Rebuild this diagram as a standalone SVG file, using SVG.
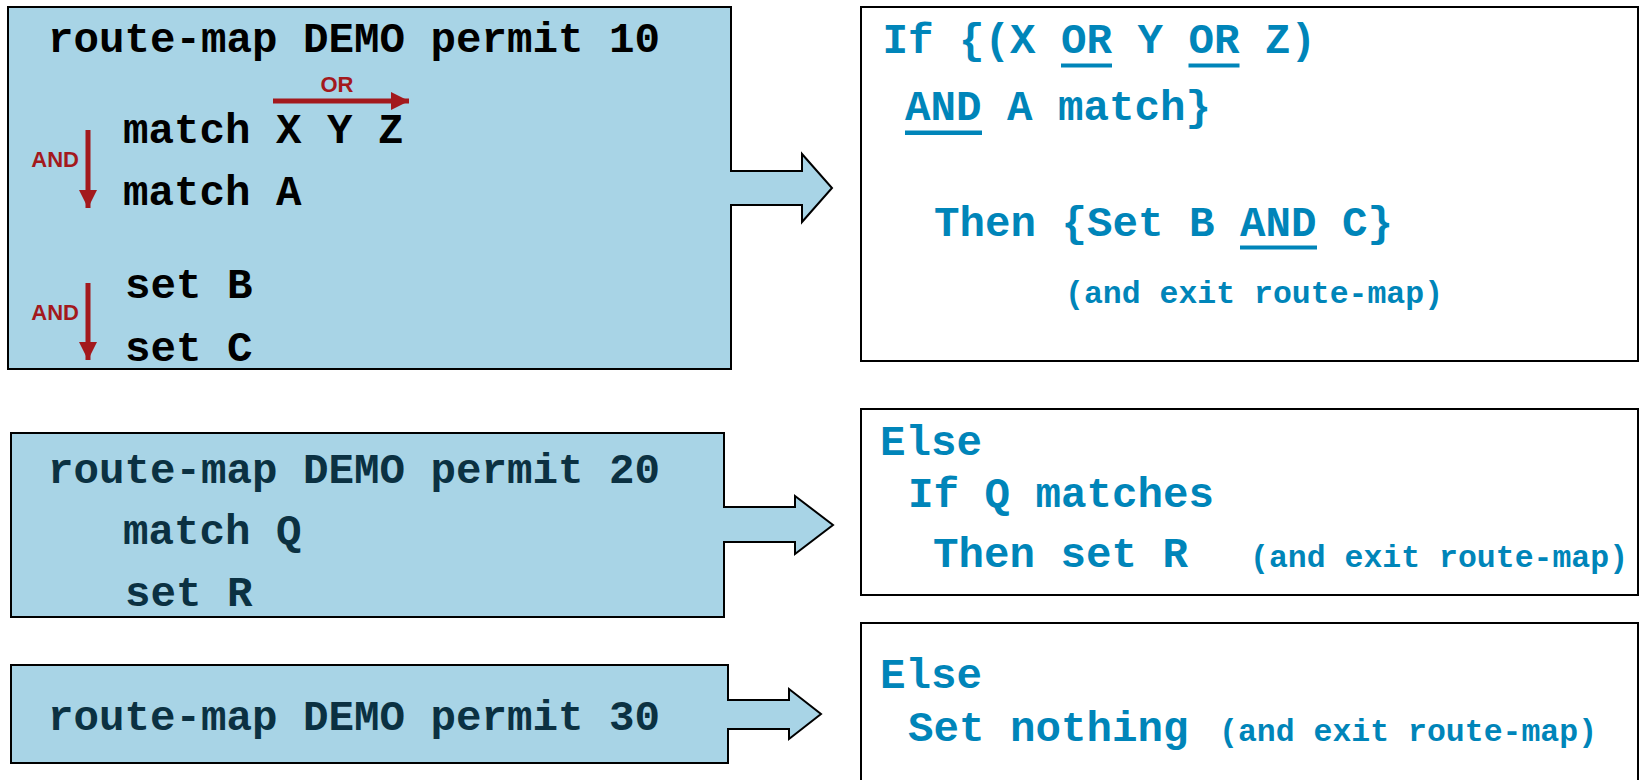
<svg xmlns="http://www.w3.org/2000/svg" width="1640" height="780" viewBox="0 0 1640 780">
  <defs>
    <style>
      .blk { fill: #A8D4E6; stroke: #000; stroke-width: 2; stroke-linejoin: miter; }
      .out { fill: #fff; stroke: #000; stroke-width: 2; }
      .code { font-family: "Liberation Mono", "Courier New", monospace; font-weight: bold; font-size: 42.5px; }
      .k { fill: #000; }
      .d { fill: #0B3142; }
      .b { fill: #0085B9; }
      .sm { font-size: 31.5px; }
      .lbl { font-family: "Liberation Sans", Arial, sans-serif; font-weight: bold; font-size: 22px; fill: #A3191D; }
      .ul { fill: #0085B9; }
      .rl { stroke: #A3191D; stroke-width: 5; fill: none; }
    </style>
    <marker id="red-head" viewBox="0 0 10 10" refX="10" refY="5" markerWidth="3.6" markerHeight="3.6" orient="auto" markerUnits="strokeWidth">
      <path d="M0,0 L10,5 L0,10 Z" fill="#A3191D"/>
    </marker>
  </defs>

  <rect width="1640" height="780" fill="#fff"/>

  <!-- sequence 10 -->
  <g id="seq10">
    <path class="blk" d="M8,7 H731 V171 H802 V154 L832,188 L802,222 V205 H731 V369 H8 Z"/>
    <text class="code k" x="48" y="52">route-map DEMO permit 10</text>
    <text class="code k" x="123" y="143">match X Y Z</text>
    <text class="code k" x="123" y="205">match A</text>
    <text class="code k" x="125" y="298">set B</text>
    <text class="code k" x="125" y="361">set C</text>
    <line class="rl" x1="273" y1="101" x2="409" y2="101" marker-end="url(#red-head)"/>
    <text class="lbl" x="337" y="92" text-anchor="middle">OR</text>
    <line class="rl" x1="88" y1="130" x2="88" y2="208" marker-end="url(#red-head)"/>
    <text class="lbl" x="79" y="167" text-anchor="end">AND</text>
    <line class="rl" x1="88" y1="283" x2="88" y2="360" marker-end="url(#red-head)"/>
    <text class="lbl" x="79" y="320" text-anchor="end">AND</text>
  </g>

  <!-- sequence 20 -->
  <g id="seq20">
    <path class="blk" d="M11,433 H724 V507 H795 V496 L833,525 L795,554 V542 H724 V617 H11 Z"/>
    <text class="code d" x="48" y="483">route-map DEMO permit 20</text>
    <text class="code d" x="123" y="544">match Q</text>
    <text class="code d" x="125" y="606">set R</text>
  </g>

  <!-- sequence 30 -->
  <g id="seq30">
    <path class="blk" d="M11,665 H728 V700 H789 V689 L821,714 L789,739 V729 H728 V763 H11 Z"/>
    <text class="code d" x="48" y="730">route-map DEMO permit 30</text>
  </g>

  <!-- meaning of sequence 10 -->
  <g id="logic10">
    <rect class="out" x="861" y="7" width="777" height="354"/>
    <text class="code b" x="882.5" y="53">If {(X OR Y OR Z)</text>
    <rect class="ul" x="1061" y="63.5" width="51" height="4"/>
    <rect class="ul" x="1188.5" y="63.5" width="51" height="4"/>
    <text class="code b" x="905" y="120">AND A match}</text>
    <rect class="ul" x="905" y="130.5" width="77" height="4.5"/>
    <text class="code b" x="934" y="236">Then {Set B AND C}</text>
    <rect class="ul" x="1240" y="245.5" width="77" height="4"/>
    <text class="code b sm" x="1065" y="303">(and exit route-map)</text>
  </g>

  <!-- meaning of sequence 20 -->
  <g id="logic20">
    <rect class="out" x="861" y="409" width="777" height="186"/>
    <text class="code b" x="880" y="455">Else</text>
    <text class="code b" x="908" y="507">If Q matches</text>
    <text class="code b" x="933" y="567">Then set R</text>
    <text class="code b sm" x="1250" y="567">(and exit route-map)</text>
  </g>

  <!-- meaning of sequence 30 -->
  <g id="logic30">
    <path class="out" d="M861,790 V623 H1638 V790"/>
    <text class="code b" x="880" y="688">Else</text>
    <text class="code b" x="908" y="741">Set nothing</text>
    <text class="code b sm" x="1219" y="741">(and exit route-map)</text>
  </g>
</svg>
